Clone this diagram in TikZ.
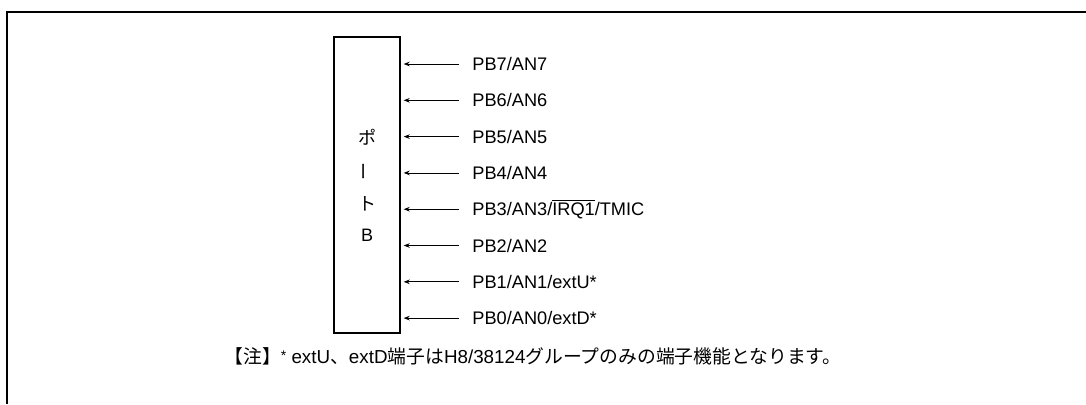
\documentclass[tikz,border=0pt]{standalone}
\usepackage{fontspec}
\setmainfont{Liberation Sans}
\newfontfamily\jp{Noto Sans CJK JP}
\usepackage{tikz}
\usetikzlibrary{
	arrows.meta,
	positioning
}

\tikzset{
	pin label/.style={anchor=west, inner sep=0pt, font=\fontsize{9.1pt}{10pt}\selectfont},
	port char/.style={inner sep=0pt, font=\fontsize{9pt}{10pt}\selectfont},
	pin arrow/.style={line width=0.4pt, -{Stealth[length=3pt, width=2.3pt]}, shorten >=1.5pt}
}

\begin{document}
\begin{tikzpicture}[x=0.5pt, y=-0.5pt]
		\useasboundingbox (0,0) rectangle (1086,404);
		
		% frame
		\draw[line width=0.7pt] (7,404) -- (7,12) -- (1086,12);
		
		% port block
		\node[draw, line width=0.7pt, minimum width=33pt, minimum height=148pt, inner sep=0pt] (port) at (367,185) {};
		\node[port char] (po) at (367,137) {\jp ポ};
		\node[port char, rotate=90, below=17pt of po.center, anchor=center] (cho) {\jp ー};
		\node[port char, below=16.5pt of cho.center, anchor=center] (to) {\jp ト};
		\node[port char, below=15.5pt of to.center, anchor=center] (b) {B};
		
		% pins
		\foreach \i/\t in {7/{PB7/AN7}, 6/{PB6/AN6}, 5/{PB5/AN5}, 4/{PB4/AN4},
			3/{PB3/AN3/$\overline{\hbox{IRQ1}}$/TMIC}, 2/{PB2/AN2},
			1/{PB1/AN1/extU*}, 0/{PB0/AN0/extD*}}{
			\pgfmathsetmacro{\yy}{64+(7-\i)*36.3}
			\node[pin label] (pb\i) at (472,\yy) {\t};
			\coordinate (tail\i) at (459,\yy);
			\draw[pin arrow] (tail\i) -- (port.east |- tail\i);
		}
		
		% note
		\node[port char, font=\fontsize{9.4pt}{10pt}\selectfont] (note) at (533,356) {{\jp 【注】}\raisebox{0.3ex}{\scriptsize *} extU{\jp 、}extD{\jp 端子は}H8/38124{\jp グループのみの端子機能となります。}};
	\end{tikzpicture}
\end{document}
